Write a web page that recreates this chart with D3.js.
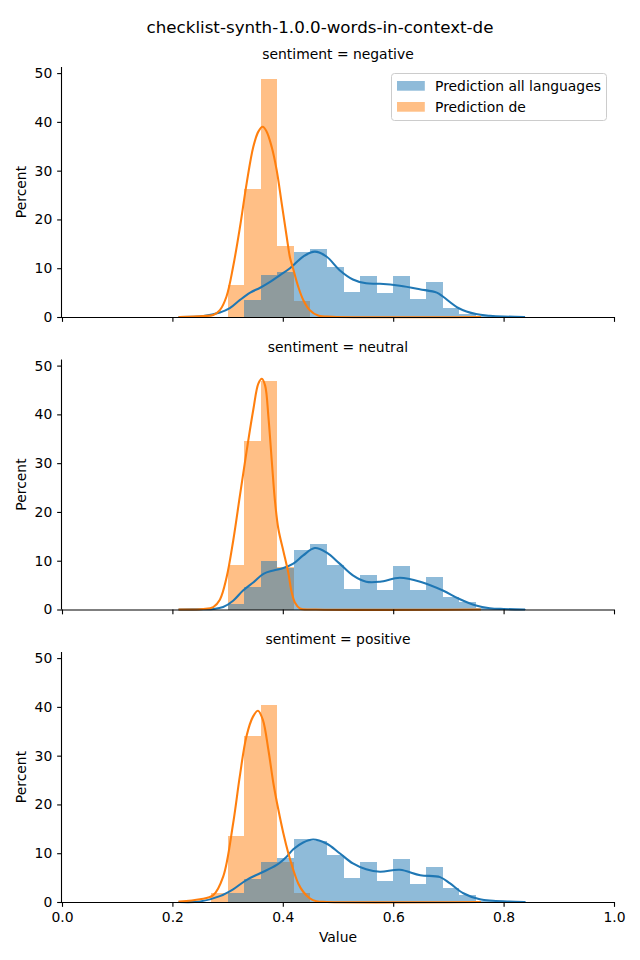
<!DOCTYPE html>
<html><head><meta charset="utf-8">
<script src="https://cdn.jsdelivr.net/npm/d3@7"></script>
<style>body{margin:0;background:#fff}svg{display:block}text{font-family:"DejaVu Sans",sans-serif;fill:#000}</style>
</head><body>
<svg id="c" width="640" height="960"></svg>
<script>
const title = "checklist-synth-1.0.0-words-in-context-de";
const panels = ["sentiment = negative", "sentiment = neutral", "sentiment = positive"];
const seriesNames = ["Prediction all languages", "Prediction de"];
const xTicks = [0.0, 0.2, 0.4, 0.6, 0.8, 1.0];
const yTicks = [0, 10, 20, 30, 40, 50];
const binWidth = 0.03;
const binLefts = [0.27,0.30,0.33,0.36,0.39,0.42,0.45,0.48,0.51,0.54,0.57,0.60,0.63,0.66,0.69,0.72,0.75,0.78,0.81];

// histogram percentages per bin
const negAll = [0,0,3.5,8.6,9.2,13.3,13.9,10.2,5.1,8.4,4.9,8.4,3.7,7.2,1.8,0.7,0.2,0.1,0.1];
const negDe  = [0,6.6,26.3,48.8,14.6,3.3,0,0,0,0,0,0,0,0,0,0,0,0,0];
const neuAll = [0,1.2,4.7,10.0,8.5,12.1,13.5,9.2,4.3,7.0,3.9,9.0,3.9,6.6,2.5,1.6,0.4,0.2,0.1];
const neuDe  = [0,9.2,34.6,46.9,8.7,0,0,0,0,0,0,0,0,0,0,0,0,0,0];
const posAll = [0,1.8,4.7,8.2,9.0,12.9,12.5,9.6,4.9,8.2,4.3,8.8,3.7,7.2,2.9,1.4,0.3,0.2,0.2];
const posDe  = [1.8,13.5,34.0,40.4,8.3,1.8,0,0,0,0,0,0,0,0,0,0,0,0,0];

// KDE curves: x positions and densities (percent scale)
const negAllKdeX = [0.213,0.256,0.286,0.304,0.3225,0.341,0.359,0.377,0.395,0.413,0.437,0.458,0.479,0.503,0.527,0.551,0.576,0.612,0.648,0.679,0.69,0.719,0.75,0.775,0.80,0.837];
const negAllKdeY = [0,0.2,0.9,1.8,3.5,5.0,6.0,7.2,8.6,10.0,12.4,13.4,12.4,9.6,7.7,6.9,6.8,6.4,5.7,5.0,4.2,1.8,0.6,0.27,0.1,0];
const negDeKdeX = [0.213,0.256,0.274,0.286,0.298,0.31,0.3225,0.3345,0.3466,0.3557,0.3635,0.3708,0.3798,0.3889,0.398,0.407,0.413,0.419,0.428,0.437,0.449,0.464,0.49,0.757];
const negDeKdeY = [0,0.2,0.4,1.4,4.2,10.3,18.5,27.4,34.9,38.0,39.0,38.0,34.9,30.1,23.3,16.5,12.2,9.8,6.2,3.5,1.4,0.3,0.05,0];
const neuAllKdeX = [0.213,0.256,0.274,0.292,0.31,0.328,0.347,0.365,0.383,0.401,0.419,0.437,0.458,0.479,0.503,0.527,0.551,0.576,0.612,0.649,0.69,0.719,0.75,0.775,0.80,0.837];
const neuAllKdeY = [0,0.05,0.1,0.5,1.8,3.9,5.6,7.3,8.0,8.5,9.4,11.1,12.6,11.7,9.4,7.0,5.7,5.7,6.5,5.7,3.9,2.2,0.8,0.27,0.1,0];
const neuDeKdeX = [0.213,0.256,0.274,0.286,0.298,0.31,0.3225,0.3345,0.3466,0.3557,0.362,0.368,0.374,0.38,0.386,0.392,0.401,0.41,0.416,0.422,0.431,0.46,0.757];
const neuDeKdeY = [0,0.1,0.5,2.0,6.5,14.0,23.5,32.5,41.0,46.3,47.3,45.9,39.4,30.5,22.0,16.5,12.0,7.5,3.6,1.4,0.2,0,0];
const posAllKdeX = [0.213,0.25,0.286,0.31,0.334,0.359,0.389,0.407,0.419,0.437,0.455,0.479,0.503,0.527,0.551,0.576,0.612,0.649,0.685,0.703,0.727,0.757,0.781,0.81,0.837];
const posAllKdeY = [0,0.1,1.2,2.6,4.5,5.9,7.6,9.3,10.8,12.2,12.8,12.0,10.0,7.9,6.7,6.2,6.6,5.5,5.1,3.8,1.8,0.55,0.27,0.1,0];
const posDeKdeX = [0.213,0.25,0.274,0.292,0.31,0.322,0.334,0.346,0.355,0.364,0.374,0.383,0.392,0.401,0.41,0.419,0.428,0.437,0.449,0.461,0.48,0.757];
const posDeKdeY = [0.1,0.55,1.4,5.2,16.1,25.7,33.9,38.0,39.2,37.3,31.1,24.3,18.9,14.1,10.0,6.6,3.8,2.1,0.75,0.15,0,0];

const panelData = [
  {all: negAll, de: negDe, allK: [negAllKdeX, negAllKdeY], deK: [negDeKdeX, negDeKdeY]},
  {all: neuAll, de: neuDe, allK: [neuAllKdeX, neuAllKdeY], deK: [neuDeKdeX, neuDeKdeY]},
  {all: posAll, de: posDe, allK: [posAllKdeX, posAllKdeY], deK: [posDeKdeX, posDeKdeY]}
];

const blue = "#1f77b4", orange = "#ff7f0e";
const svg = d3.select("#c");
const left = 62, right = 614;
const x = d3.scaleLinear().domain([0, 1]).range([left, right]);
const fs = 13.9;

svg.append("text").attr("x", 320).attr("y", 33).attr("text-anchor", "middle")
  .style("font-size", "16.7px").text(title);

panelData.forEach((pd, i) => {
  const bottom = 317 + i * 292.5;
  const y = d3.scaleLinear().domain([0, 51.25]).range([bottom, bottom - 250]);
  const g = svg.append("g");

  g.append("text").attr("x", (left + right) / 2).attr("y", bottom - 258).attr("text-anchor", "middle")
    .style("font-size", fs + "px").text(panels[i]);

  // orange bars first, blue on top
  [[pd.de, orange], [pd.all, blue]].forEach(([vals, col]) => {
    g.append("g").attr("shape-rendering", "crispEdges")
      .selectAll("rect").data(vals.map((v, k) => ({v, x0: binLefts[k]})).filter(d => d.v > 0))
      .join("rect")
      .attr("x", d => x(d.x0))
      .attr("width", d => x(d.x0 + binWidth) - x(d.x0))
      .attr("y", d => y(d.v))
      .attr("height", d => y(0) - y(d.v))
      .attr("fill", col).attr("fill-opacity", 0.5);
  });

  const line = d3.line().x(d => x(d[0])).y(d => y(Math.max(0, d[1]))).curve(d3.curveCatmullRom.alpha(0.5));
  [[pd.allK, blue], [pd.deK, orange]].forEach(([k, col]) => {
    const pts = k[0].map((xv, j) => [xv, k[1][j]]);
    g.append("path").attr("d", line(pts)).attr("fill", "none").attr("stroke", col)
      .attr("stroke-width", 2.08).attr("stroke-linejoin", "round").attr("stroke-linecap", "square");
  });

  // axes
  const xa = d3.axisBottom(x).tickValues(xTicks).tickSize(4.86).tickPadding(4.86).tickFormat(d3.format(".1f"));
  const xg = g.append("g").attr("transform", `translate(0,${bottom})`).call(xa);
  if (i < 2) xg.selectAll(".tick text").remove();
  const ya = d3.axisLeft(y).tickValues(yTicks).tickSize(4.86).tickPadding(4.86);
  const yg = g.append("g").attr("transform", `translate(${left},0)`).call(ya);
  [xg, yg].forEach(a => {
    a.select(".domain").attr("stroke", "#000").attr("stroke-width", 1.1);
    a.selectAll(".tick line").attr("stroke", "#000").attr("stroke-width", 1.1);
    a.selectAll(".tick text").style("font-size", fs + "px").style("font-family", "DejaVu Sans").attr("fill", "#000");
  });
  xg.select(".domain").attr("d", `M${left},0.5H${right}`);
  yg.select(".domain").attr("d", `M-0.5,${bottom}V${bottom - 250}`);

  g.append("text").attr("transform", `translate(26,${bottom - 125}) rotate(-90)`)
    .attr("text-anchor", "middle").style("font-size", fs + "px").text("Percent");

  if (i === 0) {
    const lg = g.append("g");
    lg.append("rect").attr("x", 391.5).attr("y", 73.5).attr("width", 215).attr("height", 47).attr("rx", 3)
      .attr("fill", "#fff").attr("fill-opacity", 0.8).attr("stroke", "#cccccc").attr("stroke-width", 1);
    [[blue, seriesNames[0]], [orange, seriesNames[1]]].forEach(([col, name], j) => {
      lg.append("rect").attr("x", 397).attr("y", 81 + j * 21).attr("width", 27.8).attr("height", 9.7)
        .attr("fill", col).attr("fill-opacity", 0.5);
      lg.append("text").attr("x", 435).attr("y", 91 + j * 21).style("font-size", fs + "px").text(name);
    });
  }
});

svg.append("text").attr("x", (left + right) / 2).attr("y", 942).attr("text-anchor", "middle")
  .style("font-size", fs + "px").text("Value");
</script>
</body></html>
